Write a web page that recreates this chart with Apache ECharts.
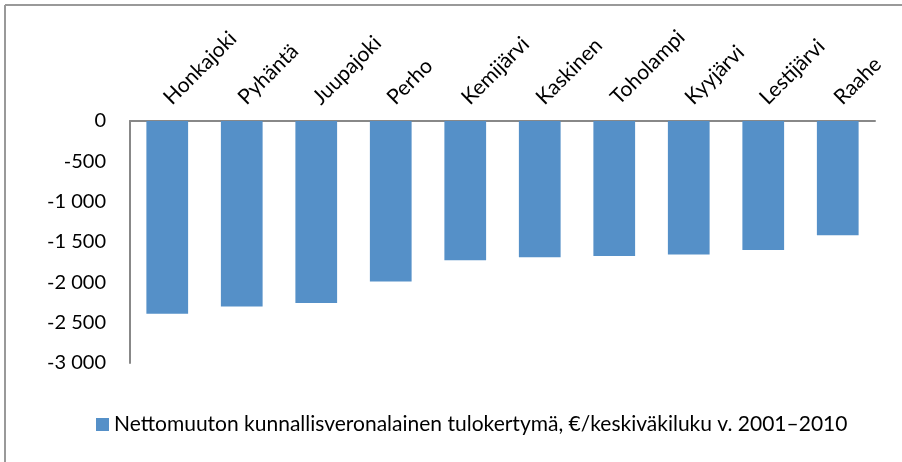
<!DOCTYPE html>
<html>
<head>
<meta charset="utf-8">
<script src="https://cdn.jsdelivr.net/npm/echarts@6/dist/echarts.min.js"></script>
<style>
  html, body { margin: 0; padding: 0; background: #fff; }
  #chart { width: 902px; height: 462px; }
</style>
</head>
<body>
<div id="chart"></div>
<script>
// Municipalities, ordered from largest net loss to smallest
var municipalities = ['Honkajoki', 'Pyhäntä', 'Juupajoki', 'Perho', 'Kemijärvi',
  'Kaskinen', 'Toholampi', 'Kyyjärvi', 'Lestijärvi', 'Raahe'];
// Net migration, municipal-taxable income per average population (€), 2001–2010
var netIncome = [-2390, -2300, -2255, -1990, -1725, -1690, -1675, -1655, -1600, -1415];
var seriesName = 'Nettomuuton kunnallisveronalainen tulokertymä, €/keskiväkiluku v. 2001–2010';

var FONT = 'Lato';
var chart = echarts.init(document.getElementById('chart'));

// Thousands separated by a space, e.g. -1 500
function fmt(v) {
  var s = String(Math.abs(v)).replace(/\B(?=(\d{3})+(?!\d))/g, ' ');
  return (v < 0 ? '-' : '') + s;
}

chart.setOption({
  animation: false,
  textStyle: { fontFamily: FONT },
  grid: { left: 130, right: 27, top: 121, bottom: 99 },
  legend: {
    data: [seriesName],
    left: 91, top: 409,
    icon: 'rect', itemWidth: 13, itemHeight: 13, itemGap: 6,
    textStyle: { fontFamily: FONT, fontSize: 21, color: '#000' }
  },
  xAxis: {
    type: 'category',
    position: 'top',
    data: municipalities,
    axisLine: { lineStyle: { color: '#888', width: 2 } },
    axisTick: { show: false },
    axisLabel: { rotate: 45, margin: 20, fontFamily: FONT, fontSize: 21, color: '#000' }
  },
  yAxis: {
    type: 'value',
    min: -3000, max: 0, interval: 500,
    axisLine: { show: true, lineStyle: { color: '#888', width: 2 } },
    axisTick: { show: false },
    splitLine: { show: false },
    axisLabel: { margin: 24, fontFamily: FONT, fontSize: 20, color: '#000', formatter: fmt }
  },
  series: [{
    name: seriesName,
    type: 'bar',
    data: netIncome,
    barWidth: '56%',
    itemStyle: { color: '#5590C8' }
  }],
  graphic: [
    { type: 'line', shape: { x1: 5, y1: 5, x2: 5, y2: 462 }, style: { stroke: '#999', lineWidth: 2 } },
    { type: 'line', shape: { x1: 5, y1: 5, x2: 902, y2: 5 }, style: { stroke: '#999', lineWidth: 2 } }
  ]
});
</script>
</body>
</html>
